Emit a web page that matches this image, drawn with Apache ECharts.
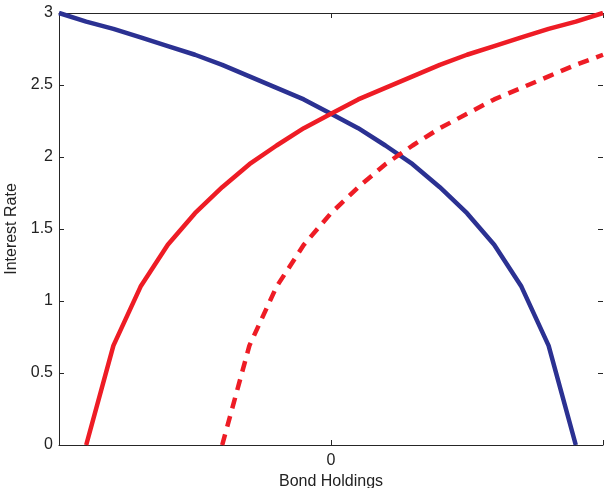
<!DOCTYPE html>
<html>
<head>
<meta charset="utf-8">
<script src="https://cdn.jsdelivr.net/npm/echarts@6/dist/echarts.min.js"></script>
<style>
  html, body { margin: 0; padding: 0; background: #fff; }
  #chart { width: 604px; height: 488px; }
</style>
</head>
<body>
<div id="chart"></div>
<script>
// interest rate levels (shared by all three curves)
const rates = [0, 0.69, 1.10, 1.39, 1.61, 1.79, 1.95, 2.08, 2.20, 2.30,
               2.40, 2.48, 2.56, 2.64, 2.71, 2.77, 2.83, 2.89, 2.94, 3.00];
// bond holdings for each rate level
const demandX = [9, 8, 7, 6, 5, 4, 3, 2, 1, 0, -1, -2, -3, -4, -5, -6, -7, -8, -9, -10];
const supplyX = [-9, -8, -7, -6, -5, -4, -3, -2, -1, 0, 1, 2, 3, 4, 5, 6, 7, 8, 9, 10];
const shiftedX = [-4, -3, -2, -1, 0, 1, 2, 3, 4, 5, 6, 7, 8, 9, 10];
const yTicks = ["0", "0.5", "1", "1.5", "2", "2.5", "3"];

const pairs = (xs, ys) => xs.map((x, i) => [x, ys[i]]);

const axisColor = "#262626";
const font = "Liberation Sans, Arial, sans-serif";

const chart = echarts.init(document.getElementById("chart"));
chart.setOption({
  animation: false,
  grid: {
    left: 59, right: 1, top: 13, bottom: 43,
    containLabel: false,
    outerBoundsMode: "none"
  },
  xAxis: [
    {
      type: "value",
      min: -10,
      max: 10,
      interval: 10,
      name: "Bond Holdings",
      nameLocation: "middle",
      nameGap: 26,
      nameTextStyle: { color: "#222", fontSize: 16, fontFamily: font },
      axisLine: { onZero: false, lineStyle: { color: axisColor, width: 1 } },
      axisTick: { inside: true, length: 5, lineStyle: { color: axisColor } },
      axisLabel: {
        color: "#222", fontSize: 16, fontFamily: font, margin: 8,
        formatter: v => (v === 0 ? "0" : "")
      },
      splitLine: { show: false }
    },
    {
      type: "value",
      position: "top",
      min: -10,
      max: 10,
      interval: 10,
      axisLine: { onZero: false, lineStyle: { color: axisColor, width: 1 } },
      axisTick: { inside: true, length: 5, lineStyle: { color: axisColor } },
      axisLabel: { show: false },
      splitLine: { show: false }
    }
  ],
  yAxis: [
    {
      type: "value",
      min: 0,
      max: 3,
      interval: 0.5,
      name: "Interest Rate",
      nameLocation: "middle",
      nameGap: 35,
      nameTextStyle: { color: "#222", fontSize: 16, fontFamily: font },
      axisLine: { show: true, onZero: false, lineStyle: { color: axisColor, width: 1 } },
      axisTick: { show: true, inside: true, length: 5, lineStyle: { color: axisColor } },
      axisLabel: {
        color: "#222", fontSize: 16, fontFamily: font, margin: 6,
        formatter: v => yTicks[Math.round(v * 2)]
      },
      splitLine: { show: false }
    },
    {
      type: "value",
      position: "right",
      min: 0,
      max: 3,
      interval: 0.5,
      axisLine: { show: false, onZero: false },
      axisTick: { show: true, inside: true, length: 5, lineStyle: { color: axisColor } },
      axisLabel: { show: false },
      splitLine: { show: false }
    }
  ],
  series: [
    {
      name: "demand",
      type: "line",
      data: pairs(demandX, rates),
      showSymbol: false,
      lineStyle: { color: "#2b3192", width: 4.5 },
      z: 3
    },
    {
      name: "supply",
      type: "line",
      data: pairs(supplyX, rates),
      showSymbol: false,
      lineStyle: { color: "#ee1c25", width: 4.5 },
      z: 4
    },
    {
      name: "supply shifted",
      type: "line",
      data: pairs(shiftedX, rates.slice(0, shiftedX.length)),
      showSymbol: false,
      lineStyle: { color: "#ee1c25", width: 4.5, type: [11, 8] },
      z: 4
    }
  ]
});
</script>
</body>
</html>
